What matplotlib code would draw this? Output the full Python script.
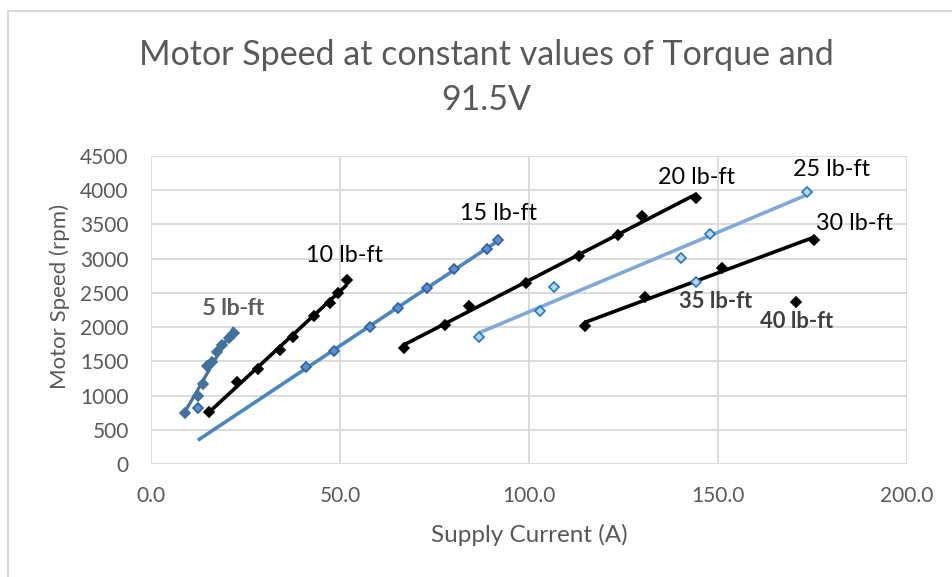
import numpy as np
import matplotlib.pyplot as plt
from matplotlib.lines import Line2D

plt.rcParams['font.family'] = ['Lato', 'DejaVu Sans']

# Datos: corriente (A) y velocidad (rpm) por torque
x_5 = [9.0, 12.4, 13.7, 14.8, 16.1, 17.4, 18.8, 20.6, 21.9]
y_5 = [745, 994, 1169, 1432, 1490, 1636, 1739, 1841, 1914]

x_10 = [15.3, 22.7, 28.3, 34.1, 37.5, 43.1, 47.3, 49.4, 51.8]
y_10 = [760, 1198, 1388, 1666, 1856, 2162, 2352, 2499, 2688]

x_15 = [41.0, 48.3, 57.9, 65.3, 72.9, 80.1, 89.0, 91.9]
y_15 = [1417, 1651, 2002, 2279, 2572, 2849, 3141, 3273]

# punto suelto (azul) junto a la serie de 5 lb-ft
x_extra = [12.4]
y_extra = [818]

x_20 = [66.8, 77.7, 84.0, 99.3, 113.3, 123.6, 130.0, 144.3]
y_20 = [1695, 2031, 2309, 2645, 3039, 3346, 3624, 3887]

x_25 = [86.9, 103.0, 106.7, 140.3, 147.9, 173.6]
y_25 = [1856, 2236, 2586, 3010, 3361, 3974]

x_30 = [114.7, 130.8, 151.1, 175.4]
y_30 = [2016, 2440, 2864, 3273]

x_35 = [144.3]
y_35 = [2659]

x_40 = [170.7]
y_40 = [2367]

x_ticks = [0, 50, 100, 150, 200]
y_ticks = [0, 500, 1000, 1500, 2000, 2500, 3000, 3500, 4000, 4500]

gris = '#595959'

fig = plt.figure(figsize=(9.52, 5.77), dpi=100)
ax = fig.add_axes([151 / 952, 1 - 464 / 577, 756 / 952, 308 / 577])


def serie(x, y, color_linea, color_borde, color_relleno, lw=2.6, x_desde=None):
    x = np.array(x)
    y = np.array(y)
    ax.plot(x, y, linestyle='none', marker='D', markersize=5,
            markerfacecolor=color_relleno, markeredgecolor=color_borde,
            markeredgewidth=1.2, zorder=4)
    if len(x) > 1:
        # linea de tendencia lineal (como en Excel)
        m, b = np.polyfit(x, y, 1)
        x0 = x.min() if x_desde is None else x_desde
        xt = np.array([x0, x.max()])
        ax.plot(xt, m * xt + b, color=color_linea, linewidth=lw, zorder=3,
                solid_capstyle='butt')


serie(x_5, y_5, '#41719C', '#41719C', '#41719C', lw=2.3)
serie(x_10, y_10, 'black', 'black', 'black')
serie(x_15, y_15, '#4A86C3', '#2F5F9E', '#5B8FD0', x_desde=x_extra[0])
serie(x_extra, y_extra, '#4A86C3', '#2F5F9E', '#5B8FD0')
serie(x_20, y_20, 'black', 'black', 'black')
serie(x_25, y_25, '#7EA9DA', '#1F77C8', '#BDD7EE')
serie(x_30, y_30, 'black', 'black', 'black')
serie(x_35, y_35, '#7EA9DA', '#1F77C8', '#BDD7EE')
serie(x_40, y_40, 'black', 'black', 'black')

# etiquetas de cada serie
etiquetas = [
    ('10 lb-ft', 51.3, 3039, 'black', 'normal', 16.8),
    ('15 lb-ft', 91.9, 3653, 'black', 'normal', 16.8),
    ('20 lb-ft', 144.3, 4179, 'black', 'normal', 16.8),
    ('25 lb-ft', 179.9, 4310, 'black', 'normal', 16.8),
    ('30 lb-ft', 186.0, 3521, 'black', 'normal', 16.8),
    ('35 lb-ft', 149.3, 2367, '#404040', 'bold', 15.8),
    ('40 lb-ft', 170.9, 2089, '#404040', 'bold', 15.8),
]
for txt, xe, ye, c, w, s in etiquetas:
    ax.text(xe, ye, txt, color=c, fontweight=w, fontsize=s,
            ha='center', va='center', zorder=5, clip_on=False)

# "5 lb-ft" aparece duplicado en el original
ax.text(21.5, 2279, '5 lb-ft', color=gris, fontsize=16.3, ha='center', va='center', zorder=5)
ax.text(21.8, 2279, '5 lb-ft', color=gris, fontsize=16.3, ha='center', va='center', zorder=5, alpha=0.8)

ax.set_xlim(0, 200)
ax.set_ylim(0, 4500)
ax.set_xticks(x_ticks)
ax.set_yticks(y_ticks)
ax.set_xticklabels([f'{v:.1f}' for v in x_ticks])
ax.set_yticklabels([str(v) for v in y_ticks])
ax.grid(True, color='#D9D9D9', linewidth=1.3)
ax.set_axisbelow(True)
for s in ax.spines.values():
    s.set_visible(False)
ax.tick_params(length=0, labelsize=15, colors=gris)
ax.tick_params(axis='x', pad=16)
ax.tick_params(axis='y', pad=16)

fig.text(486 / 952, 1 - 55 / 577, 'Motor Speed at constant values of Torque and',
         fontsize=24.5, color=gris, ha='center', va='center')
fig.text(486 / 952, 1 - 100 / 577, '91.5V',
         fontsize=24.5, color=gris, ha='center', va='center')
fig.text(529 / 952, 1 - 535 / 577, 'Supply Current (A)',
         fontsize=17.5, color=gris, ha='center', va='center')
fig.text(60 / 952, 1 - 296 / 577, 'Motor Speed (rpm)',
         fontsize=16, color=gris, ha='center', va='center', rotation=90)

# borde del area del grafico
fig.add_artist(Line2D([8 / 952, 8 / 952], [0, 1 - 11 / 577], color='#D9D9D9', linewidth=1.5))
fig.add_artist(Line2D([8 / 952, 1], [1 - 11 / 577, 1 - 11 / 577], color='#D9D9D9', linewidth=1.5))

fig.savefig('out.png', dpi=100)
